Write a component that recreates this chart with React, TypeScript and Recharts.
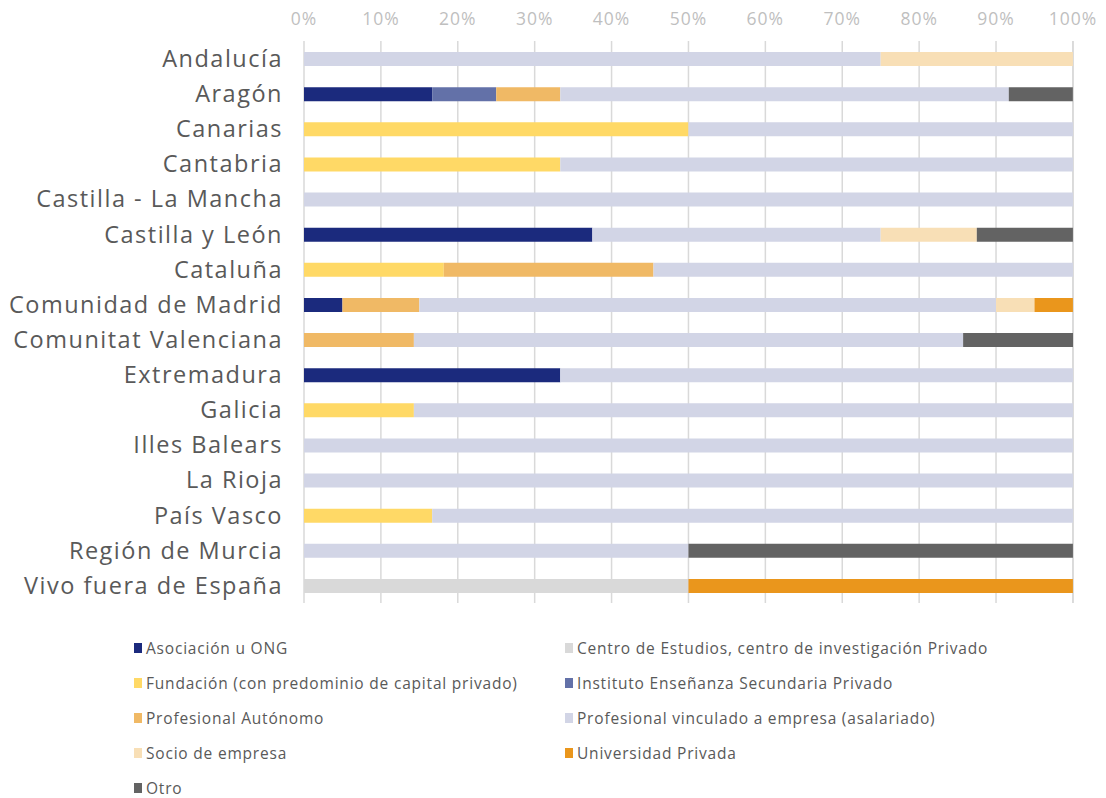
import React from 'react';
import { BarChart, Bar, XAxis, YAxis, CartesianGrid, Legend } from 'recharts';

const categories = [
  'Andalucía', 'Aragón', 'Canarias', 'Cantabria', 'Castilla - La Mancha', 'Castilla y León',
  'Cataluña', 'Comunidad de Madrid', 'Comunitat Valenciana', 'Extremadura', 'Galicia',
  'Illes Balears', 'La Rioja', 'País Vasco', 'Región de Murcia', 'Vivo fuera de España',
];

const asociacion = [0, 16.67, 0, 0, 0, 37.5, 0, 5, 0, 33.33, 0, 0, 0, 0, 0, 0];
const centro = [0, 0, 0, 0, 0, 0, 0, 0, 0, 0, 0, 0, 0, 0, 0, 50];
const fundacion = [0, 0, 50, 33.33, 0, 0, 18.18, 0, 0, 0, 14.29, 0, 0, 16.67, 0, 0];
const instituto = [0, 8.33, 0, 0, 0, 0, 0, 0, 0, 0, 0, 0, 0, 0, 0, 0];
const autonomo = [0, 8.33, 0, 0, 0, 0, 27.27, 10, 14.29, 0, 0, 0, 0, 0, 0, 0];
const vinculado = [75, 58.33, 50, 66.67, 100, 37.5, 54.55, 75, 71.43, 66.67, 85.71, 100, 100, 83.33, 50, 0];
const socio = [25, 0, 0, 0, 0, 12.5, 0, 5, 0, 0, 0, 0, 0, 0, 0, 0];
const universidad = [0, 0, 0, 0, 0, 0, 0, 5, 0, 0, 0, 0, 0, 0, 0, 50];
const otro = [0, 8.33, 0, 0, 0, 12.5, 0, 0, 14.29, 0, 0, 0, 0, 0, 50, 0];

const xTicks = [0, 10, 20, 30, 40, 50, 60, 70, 80, 90, 100];

const series = [
  { key: 'asociacion', name: 'Asociación u ONG', values: asociacion, color: '#1b2a7d' },
  { key: 'centro', name: 'Centro de Estudios, centro de investigación Privado', values: centro, color: '#d9d9d9' },
  { key: 'fundacion', name: 'Fundación (con predominio de capital privado)', values: fundacion, color: '#ffd966' },
  { key: 'instituto', name: 'Instituto Enseñanza Secundaria Privado', values: instituto, color: '#6371a8' },
  { key: 'autonomo', name: 'Profesional Autónomo', values: autonomo, color: '#f0b965' },
  { key: 'vinculado', name: 'Profesional vinculado a empresa (asalariado)', values: vinculado, color: '#d2d5e6' },
  { key: 'socio', name: 'Socio de empresa', values: socio, color: '#f8dfb6' },
  { key: 'universidad', name: 'Universidad Privada', values: universidad, color: '#ea961c' },
  { key: 'otro', name: 'Otro', values: otro, color: '#636363' },
];

const data = categories.map((c, i) => {
  const row: Record<string, string | number> = { name: c };
  series.forEach((s) => { row[s.key] = s.values[i]; });
  return row;
});

const FONT = '"Open Sans", sans-serif';

const renderLegend = () => (
  <div style={{ display: 'grid', gridTemplateColumns: '431px 431px', rowGap: 0, fontFamily: FONT }}>
    {series.map((s) => (
      <div key={s.key} style={{ display: 'flex', alignItems: 'center', height: 35, fontSize: 15.5, letterSpacing: 0.8, color: '#595959', whiteSpace: 'nowrap' }}>
        <span style={{ display: 'inline-block', width: 8, height: 10, background: s.color, marginRight: 4 }} />
        <span>{s.name}</span>
      </div>
    ))}
  </div>
);

export default function App() {
  return (
    <div style={{ position: 'relative', top: -6 }}>
      <BarChart
        width={1090}
        height={792}
        data={data}
        layout="vertical"
        margin={{ top: 6, right: 25, left: 0, bottom: 191 }}
        barSize={14}
      >
        <CartesianGrid horizontal={false} vertical={true} stroke="#d9d9d9" strokeWidth={1.5} />
        <XAxis
          type="number"
          orientation="top"
          domain={[0, 100]}
          ticks={xTicks}
          tickFormatter={(v: number) => `${v}%`}
          axisLine={false}
          tickLine={false}
          tickSize={0}
          tickMargin={16}
          height={33}
          tick={{ fill: '#bfbfbf', fontSize: 17.5, fontFamily: FONT, letterSpacing: 1 }}
          interval={0}
        />
        <YAxis
          type="category"
          dataKey="name"
          width={296}
          axisLine={false}
          tickLine={false}
          tickSize={0}
          tickMargin={21}
          interval={0}
          tick={{ fill: '#595959', fontSize: 23.5, fontFamily: FONT, letterSpacing: 1.5 }}
        />
        {series.map((s) => (
          <Bar key={s.key} dataKey={s.key} name={s.name} stackId="a" fill={s.color} isAnimationActive={false} />
        ))}
        <Legend
          layout="vertical"
          verticalAlign="middle"
          align="center"
          content={renderLegend}
          wrapperStyle={{ top: 628, left: 126, width: 900 }}
        />
      </BarChart>
    </div>
  );
}
